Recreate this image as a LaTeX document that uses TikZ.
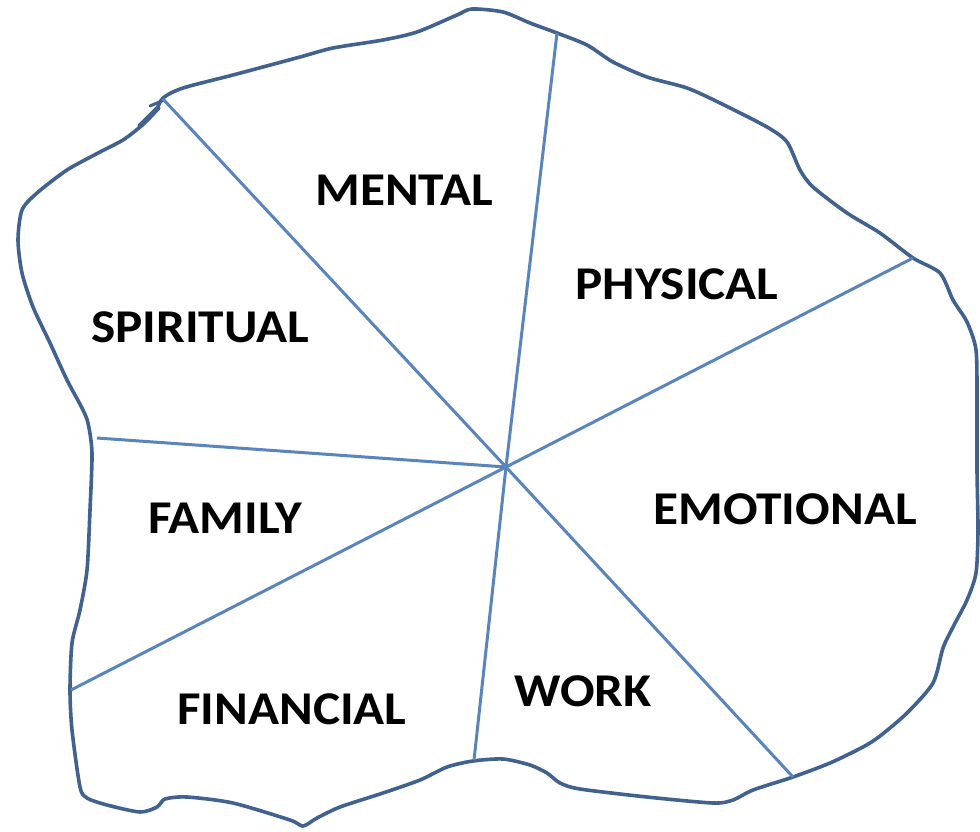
\documentclass[tikz,border=0pt]{standalone}
\usepackage{fontspec}
\setmainfont{Carlito}
\definecolor{outlinec}{HTML}{41628F}
\definecolor{spokec}{HTML}{5A84BC}
\tikzset{
  blob/.style={draw=outlinec, line width=3.6pt, line join=round},
  spoke/.style={draw=spokec, line width=3pt},
  lbl/.style={font=\fontsize{47}{52}\selectfont\bfseries, text=black, inner sep=0pt, xscale=1.09}
}
\begin{document}
\begin{tikzpicture}[x=1pt,y=-1pt]
\useasboundingbox[fill=white] (0,0) rectangle (980,831);
% outline
\draw[blob] plot[smooth cycle, tension=0.45] coordinates {
(163,98) (183,88) (233,75) (300,57) (333,48) (383,40) (417,32) (457,15) (472,9) (503,12) (530,23) (557,33) (587,45) (613,62) (647,77) (687,88) (720,103) (767,127) (787,142) (800,170) (813,187) (847,213) (880,233) (913,258) (940,273) (953,300) (967,322) (976,350) (977,400) (977,470) (978,530) (976,573) (967,600) (953,627) (943,648) (933,683) (907,713) (880,736) (863,747) (830,763) (793,777) (753,790) (733,800) (713,803) (647,797) (580,789) (560,783) (547,773) (530,765) (503,759) (473,761) (447,767) (420,780) (383,793) (340,807) (317,818) (303,826) (290,820) (233,803) (187,797) (165,799) (157,807) (140,812) (107,805) (87,798) (80,787) (72,730) (70,690) (72,643) (80,610) (87,570) (90,510) (92,453) (88,423) (82,408) (67,380) (50,343) (33,307) (22,273) (18,240) (22,210) (37,193) (67,170) (100,152) (123,140) (140,127) (155,112)
};
\draw[outlinec, line width=5pt, line cap=round] (140,126) -- (158,108);
\draw[outlinec, line width=3pt, line cap=round] (150,106) -- (164,100);
% spokes
\coordinate (c) at (506,467);
\coordinate (e1) at (163,99);
\coordinate (e2) at (557,33);
\coordinate (e3) at (913,258);
\coordinate (e4) at (793,777);
\coordinate (e5) at (474,760);
\coordinate (e6) at (71,690);
\coordinate (e7) at (97,438);
\foreach \e in {e1,e2,e3,e4,e5,e6,e7} \draw[spoke] (c) -- (\e);
% labels
\node[lbl] (mental) at (404,190) {MENTAL};
\node[lbl] (physical) at (677,284) {PHYSICAL};
\node[lbl] (spiritual) at (200,327) {SPIRITUAL};
\node[lbl] (emotional) at (785,509) {EMOTIONAL};
\node[lbl] (family) at (225,518) {FAMILY};
\node[lbl] (work) at (583,691) {WORK};
\node[lbl] (financial) at (292,709) {FINANCIAL};
\end{tikzpicture}
\end{document}
